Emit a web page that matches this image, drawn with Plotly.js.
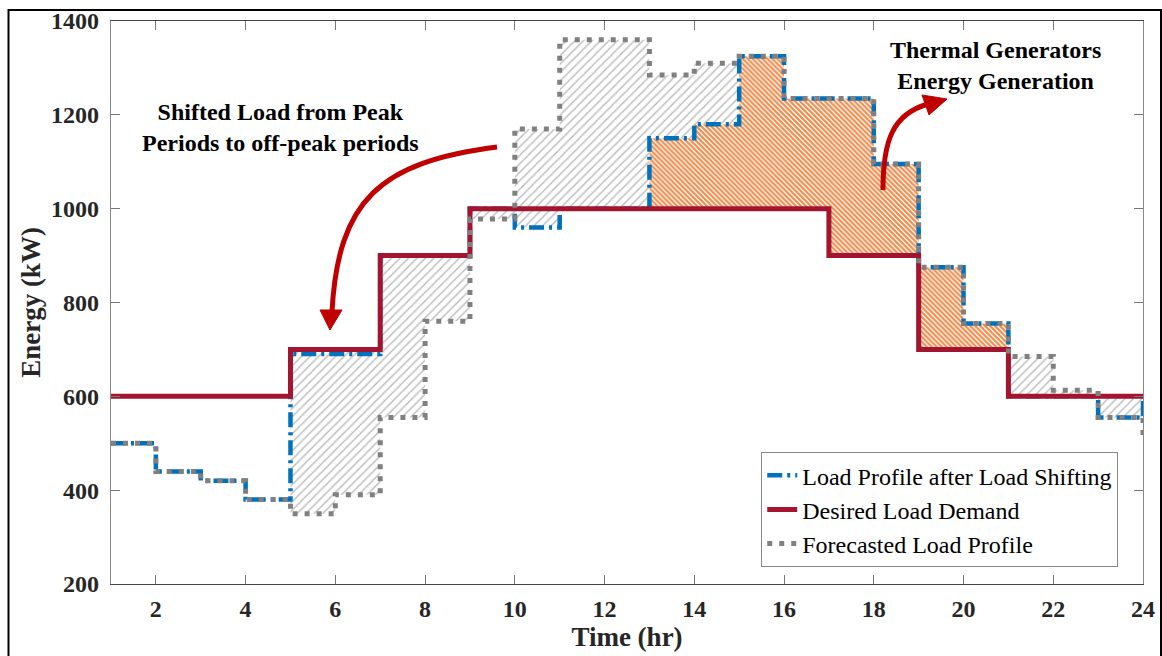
<!DOCTYPE html>
<html><head><meta charset="utf-8">
<script src="https://cdn.plot.ly/plotly-3.0.1.min.js"></script>
<style>html,body{margin:0;padding:0;background:#fff}#chart{width:1162px;height:656px}</style>
</head><body><div id="chart"></div>
<script>
// ---- data (value for hour h holds from h to h+1; last value is the end point at 24) ----
const hours = [1,2,3,4,5,6,7,8,9,10,11,12,13,14,15,16,17,18,19,20,21,22,23,24];
const forecastLoad = [500,440,420,380,350,390,555,760,978,1170,1360,1360,1285,1310,1325,1235,1235,1095,875,755,685,613,555,510];
const shiftedLoad  = [500,440,420,380,690,690,900,900,1000,960,1000,1000,1150,1180,1325,1235,1235,1095,875,755,600,600,555,595];
const desiredLoad  = [600,600,600,600,700,700,900,900,1000,1000,1000,1000,1000,1000,1000,1000,900,900,700,700,600,600,600,600];
const shiftedHours = [5,6,7,8,9,10,11,12,13,14,21,22,23];
const xTicks = [2,4,6,8,10,12,14,16,18,20,22,24];
const yTicks = [200,400,600,800,1000,1200,1400];

// group hours into contiguous runs
function runs(list){
  const out=[]; let cur=[];
  list.forEach(h=>{ if(cur.length && h!==cur[cur.length-1]+1){out.push(cur);cur=[];} cur.push(h); });
  if(cur.length) out.push(cur);
  return out;
}
function stairPolygon(run, lo, hi){
  const x=[], y=[];
  run.forEach(h=>{ x.push(h, h+1); y.push(hi[h], hi[h]); });
  run.slice().reverse().forEach(h=>{ x.push(h+1, h); y.push(lo[h], lo[h]); });
  x.push(x[0]); y.push(y[0]);
  return {x, y};
}

// gray hatch bounds (shifted load)
const gLo = {}, gHi = {};
shiftedHours.forEach(h=>{
  const i=h-1, F=forecastLoad[i], S=shiftedLoad[i], D=desiredLoad[i];
  gLo[h] = Math.min(F,S);
  gHi[h] = S>D ? Math.max(F,S) : Math.max(F,D);
});
// orange hatch bounds (thermal generation): shifted above desired
const orangeHours = hours.slice(0,23).filter(h=>shiftedLoad[h-1]>desiredLoad[h-1]);
const oLo = {}, oHi = {};
orangeHours.forEach(h=>{ oLo[h]=desiredLoad[h-1]; oHi[h]=shiftedLoad[h-1]; });

const traces = [];
runs(shiftedHours).forEach(r=>{
  const p = stairPolygon(r, gLo, gHi);
  traces.push({x:p.x, y:p.y, type:'scatter', mode:'lines', line:{width:0}, fill:'toself',
    fillcolor:'rgba(255,255,255,0)',
    fillpattern:{shape:'/', fgcolor:'#b4b4b4', bgcolor:'rgba(255,255,255,0)', size:6, solidity:0.2},
    showlegend:false, hoverinfo:'skip'});
});
runs(orangeHours).forEach(r=>{
  const p = stairPolygon(r, oLo, oHi);
  traces.push({x:p.x, y:p.y, type:'scatter', mode:'lines', line:{width:0}, fill:'toself',
    fillcolor:'rgba(255,255,255,0)',
    fillpattern:{shape:'\\', fgcolor:'#F08A48', bgcolor:'#ffffff', size:3.5, solidity:0.62},
    showlegend:false, hoverinfo:'skip'});
});

traces.push({x:hours, y:shiftedLoad, type:'scatter', mode:'lines', name:'Load Profile after Load Shifting',
  line:{shape:'hv', color:'#0072BD', width:4.5, dash:'15px,5px,3px,5px'}});
traces.push({x:hours, y:desiredLoad, type:'scatter', mode:'lines', name:'Desired Load Demand',
  line:{shape:'hv', color:'#A2142F', width:5}});
traces.push({x:hours, y:forecastLoad, type:'scatter', mode:'lines', name:'Forecasted Load Profile',
  line:{shape:'hv', color:'#808080', width:5, dash:'5px,7px'}});

// pixel -> data helpers for decorative arrows
const PX0=111, PX1=1143, PY0=584, PY1=21;
const dx = px => 1 + (px-PX0)*(23/(PX1-PX0));
const dy = py => 200 + (PY0-py)*(1200/(PY0-PY1));
const pt = (px,py) => dx(px).toFixed(3)+','+dy(py).toFixed(2);

const font = 'Liberation Serif, Times New Roman, serif';
const layout = {
  width:1162, height:656,
  margin:{l:111, r:19, t:21, b:72},
  paper_bgcolor:'#fff', plot_bgcolor:'#fff',
  font:{family:font, color:'#262626'},
  xaxis:{range:[1,24], tickvals:xTicks, ticks:'inside', ticklen:9, tickcolor:'#777', showline:true,
    linecolor:'#444', linewidth:1.3, mirror:'ticks', showgrid:false, zeroline:false,
    tickfont:{family:font, size:24, weight:'bold', color:'#262626'}, ticklabelstandoff:3,
    title:{text:'Time (hr)', font:{family:font, size:27, weight:'bold', color:'#262626'}, standoff:2}},
  yaxis:{range:[200,1400], tickvals:yTicks, ticks:'inside', ticklen:9, tickcolor:'#777', showline:true,
    linecolor:'#888', linewidth:1.3, mirror:'ticks', showgrid:false, zeroline:false,
    tickfont:{family:font, size:24, weight:'bold', color:'#262626'}, ticklabelstandoff:6,
    title:{text:'Energy (kW)', font:{family:font, size:27, weight:'bold', color:'#262626'}, standoff:2}},
  legend:{x:0.976, xanchor:'right', y:0.03, yanchor:'bottom', bgcolor:'#fff', bordercolor:'#888', borderwidth:1,
    font:{family:font, size:24, color:'#000'}, itemwidth:30, tracegroupgap:0},
  annotations:[
    {xref:'paper', yref:'paper', x:(280-PX0)/(PX1-PX0), y:(PY0-128)/(PY0-PY1), xanchor:'center', yanchor:'middle',
     text:'Shifted Load from Peak<br>Periods to off-peak periods', showarrow:false,
     font:{family:font, size:24, weight:'bold', color:'#000'}},
    {xref:'paper', yref:'paper', x:(995-PX0)/(PX1-PX0), y:(PY0-66)/(PY0-PY1), xanchor:'center', yanchor:'middle',
     text:'Thermal Generators<br>Energy Generation', showarrow:false,
     font:{family:font, size:24, weight:'bold', color:'#000'}}
  ],
  shapes:[
    {type:'path', xref:'x', yref:'y', path:'M'+pt(497,147)+' C'+pt(380,162)+' '+pt(338,200)+' '+pt(332,312),
     line:{color:'#C00000', width:5}},
    {type:'path', xref:'x', yref:'y', path:'M'+pt(320,310)+' L'+pt(342,310)+' L'+pt(330,330)+' Z',
     fillcolor:'#C00000', line:{color:'#C00000', width:1}},
    {type:'path', xref:'x', yref:'y', path:'M'+pt(883,190)+' C'+pt(883,140)+' '+pt(893,114)+' '+pt(928,104),
     line:{color:'#C00000', width:5}},
    {type:'path', xref:'x', yref:'y', path:'M'+pt(922,95)+' L'+pt(947,99)+' L'+pt(929,115)+' Z',
     fillcolor:'#C00000', line:{color:'#C00000', width:1}},
    {type:'rect', xref:'paper', yref:'paper', x0:(8.5-PX0)/(PX1-PX0), x1:(1161-PX0)/(PX1-PX0),
     y0:(PY0-670)/(PY0-PY1), y1:(PY0-10)/(PY0-PY1), line:{color:'#000', width:2}, fillcolor:'rgba(0,0,0,0)', layer:'above'}
  ]
};
Plotly.newPlot('chart', traces, layout, {staticPlot:true});
</script></body></html>
